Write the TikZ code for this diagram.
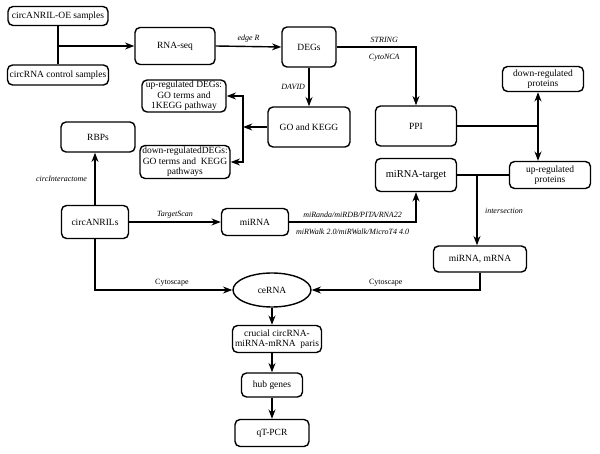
\documentclass[tikz,border=0pt]{standalone}
\usepackage{fontspec}
\setmainfont{Liberation Serif}
\usetikzlibrary{arrows.meta}
\usetikzlibrary{shapes.geometric}
\tikzset{>=Stealth}

\tikzset{
  box/.style={draw, line width=1.4pt, rounded corners=5pt, align=center,
              inner sep=1pt, font=\fontsize{9.5}{10.5}\selectfont},
  oval/.style={draw, line width=1.4pt, ellipse, inner sep=1pt,
               font=\fontsize{9.5}{10.5}\selectfont},
  flow/.style={line width=1.4pt},
  tool/.style={font=\fontsize{8}{9}\selectfont\itshape},
  soft/.style={font=\fontsize{8}{9}\selectfont},
}

\begin{document}
\begin{tikzpicture}[x=1pt, y=-1pt, >=Stealth]

\useasboundingbox (0,0) rectangle (600,454);

% ---------------------------------------------------------------------------
% Samples and sequencing
% ---------------------------------------------------------------------------
\node[box, minimum width=100, minimum height=19] (oe)   at (58,16)  {circANRIL-OE samples};
\node[box, minimum width=101, minimum height=20] (ctrl) at (58,75)  {circRNA control samples};
\node[box, minimum width=80,  minimum height=37] (rnaseq) at (175,46) {RNA-seq};
\node[box, minimum width=54,  minimum height=40] (degs)   at (309,47) {DEGs};

\draw[flow] (oe.south) -- (ctrl.north);
\draw[flow, ->] (oe.south |- rnaseq) -- (rnaseq.west);
\draw[flow, ->] (rnaseq.east) -- node[tool, above] {edge R} (degs.west);

% ---------------------------------------------------------------------------
% Enrichment branch
% ---------------------------------------------------------------------------
\node[box, minimum width=82, minimum height=40] (gokegg) at (309,127) {GO and KEGG};
\node[box, minimum width=84, minimum height=32] (updegs) at (184,96)
    {up-regulated DEGs:\\GO terms and\\1KEGG pathway};
\node[box, minimum width=90, minimum height=33] (dndegs) at (185,162)
    {down-regulatedDEGs:\\GO terms and\ \ KEGG\\pathways};
\coordinate (gosplit) at (243,127);

\draw[flow, ->] (degs.south) -- node[tool, left] {DAVID} (gokegg.north);
\draw[flow, ->] (gokegg.west) -- (gosplit);
\draw[flow, <->] (updegs.east) -| (gosplit) |- (dndegs.east);

% ---------------------------------------------------------------------------
% Protein network branch
% ---------------------------------------------------------------------------
\node[box, minimum width=81, minimum height=40] (ppi)    at (416,126) {PPI};
\node[box, minimum width=81, minimum height=25] (dnprot) at (543,79)  {down-regulated\\proteins};
\node[box, minimum width=81, minimum height=27] (upprot) at (550,175) {up-regulated\\proteins};
\coordinate (ppisplit) at (538,126);

\draw[flow, ->] (degs.east) -| node[tool, above, pos=0.3] {STRING}
                               node[tool, below=3pt, pos=0.3] {CytoNCA} (ppi.north);
\draw[flow] (ppi.east) -- (ppisplit);
\draw[flow, <->] (dnprot.south -| ppisplit) -- (upprot.north -| ppisplit);

% ---------------------------------------------------------------------------
% circANRIL targets
% ---------------------------------------------------------------------------
\node[box, minimum width=74, minimum height=30] (rbps)   at (98,137)  {RBPs};
\node[box, minimum width=67, minimum height=33] (circ)   at (95,222)  {circANRILs};
\node[box, minimum width=67, minimum height=27] (mirna)  at (255,222) {miRNA};
\node[box, minimum width=81, minimum height=33, font=\fontsize{10.5}{12}\selectfont]
     (mirnat) at (416,175) {miRNA-target};
\node[box, minimum width=93, minimum height=26] (mm)     at (480,259) {miRNA, mRNA};
\coordinate (isect) at (477,176);

\draw[flow, ->] (circ.north) -- node[tool, left=4pt] {circInteractome} (circ.north |- rbps.south);
\draw[flow, ->] (circ.east) -- node[tool, above] {TargetScan} (mirna.west);
\draw[flow, ->] (mirna.east) -| node[tool, above, pos=0.25] {miRanda/miRDB/PITA/RNA22}
                                node[tool, below=3pt, pos=0.25] {miRWalk 2.0/miRWalk/MicroT4 4.0}
                                (mirnat.south);
\draw[flow] (mirnat.east) -- (upprot.west);
\draw[flow, ->] (isect) -- node[tool, right=4pt] {intersection} (isect |- mm.north);

% ---------------------------------------------------------------------------
% ceRNA network and validation
% ---------------------------------------------------------------------------
\node[oval, minimum width=78, minimum height=34] (cerna) at (272,290) {ceRNA};
\node[box, minimum width=89, minimum height=27] (crucial) at (277,339)
    {crucial circRNA-\\miRNA-mRNA\ \ paris};
\node[box, minimum width=61, minimum height=24] (hub)  at (272,385) {hub genes};
\node[box, minimum width=74, minimum height=27] (qpcr) at (272,433) {qT-PCR};

\draw[flow, ->] (circ.south) |- node[soft, above, pos=0.78] {Cytoscape} (cerna.west);
\draw[flow, ->] (mm.south) |- node[soft, above, pos=0.78] {Cytoscape} (cerna.east);
\draw[flow, ->] (cerna.south) -- (cerna.south |- crucial.north);
\draw[flow, ->] (crucial.south -| hub) -- (hub.north);
\draw[flow, ->] (hub.south) -- (qpcr.north);

\end{tikzpicture}
\end{document}
